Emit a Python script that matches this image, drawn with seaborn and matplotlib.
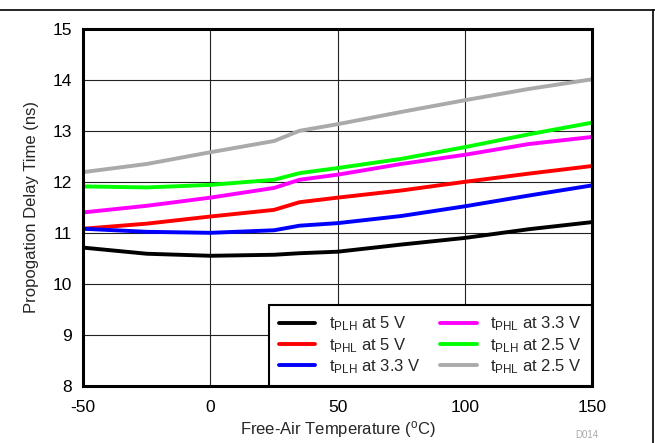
import pandas as pd
import seaborn as sns
import matplotlib.pyplot as plt
from matplotlib.lines import Line2D

# temperature points (degC)
temp = [-50, -25, 0, 25, 35, 50, 75, 100, 125, 150]

# delay values (ns)
tplh_5v = [10.71, 10.59, 10.55, 10.57, 10.60, 10.63, 10.77, 10.90, 11.07, 11.21]
tphl_5v = [11.08, 11.18, 11.32, 11.45, 11.60, 11.69, 11.83, 12.00, 12.16, 12.31]
tplh_33v = [11.08, 11.02, 11.00, 11.05, 11.14, 11.19, 11.33, 11.52, 11.73, 11.93]
tphl_33v = [11.40, 11.53, 11.69, 11.88, 12.04, 12.14, 12.35, 12.53, 12.74, 12.88]
tplh_25v = [11.91, 11.89, 11.94, 12.04, 12.17, 12.27, 12.45, 12.68, 12.93, 13.16]
tphl_25v = [12.19, 12.35, 12.58, 12.80, 13.00, 13.13, 13.37, 13.60, 13.82, 14.01]

labels = [
    r"t$_{\mathregular{PLH}}$ at 5 V",
    r"t$_{\mathregular{PHL}}$ at 5 V",
    r"t$_{\mathregular{PLH}}$ at 3.3 V",
    r"t$_{\mathregular{PHL}}$ at 3.3 V",
    r"t$_{\mathregular{PLH}}$ at 2.5 V",
    r"t$_{\mathregular{PHL}}$ at 2.5 V",
]
colors = ["#000000", "#ff0000", "#0000ff", "#ff00ff", "#00ff00", "#aaaaaa"]
series = [tplh_5v, tphl_5v, tplh_33v, tphl_33v, tplh_25v, tphl_25v]

# long format table for seaborn
rows = []
for lab, vals in zip(labels, series):
    for t, v in zip(temp, vals):
        rows.append({"temp": t, "delay": v, "series": lab})
df = pd.DataFrame(rows)

sns.set_style("white")
plt.rcParams['font.family'] = ['Liberation Sans', 'DejaVu Sans']
plt.rcParams['mathtext.fontset'] = 'custom'
plt.rcParams['mathtext.rm'] = 'Liberation Sans'
plt.rcParams['mathtext.default'] = 'regular'
plt.rcParams['axes.unicode_minus'] = False

fig = plt.figure(figsize=(6.55, 4.43), dpi=100)
ax = fig.add_axes([0.127, 0.129, 0.777, 0.806])

sns.lineplot(data=df, x="temp", y="delay", hue="series", hue_order=labels,
             palette=dict(zip(labels, colors)), linewidth=2.8, ax=ax, legend=False)

ax.set_xlim(-50, 150)
ax.set_ylim(8, 15)
ax.set_xticks([-50, 0, 50, 100, 150])
ax.set_yticks(range(8, 16))
ax.grid(True, color="#222222", linewidth=0.8)
ax.set_axisbelow(True)
ax.tick_params(axis="x", length=0, labelsize=12.5, pad=10, colors="black")
ax.tick_params(axis="y", length=0, labelsize=12.5, pad=8, colors="black")
for s in ax.spines.values():
    s.set_linewidth(2.2)
    s.set_color("black")

ax.set_xlabel(r"Free-Air Temperature ($^{\mathregular{o}}$C)", fontsize=12, labelpad=3)
ax.set_ylabel("Propogation Delay Time (ns)", fontsize=12, labelpad=10)

handles = [Line2D([0], [0], color=c, linewidth=2.8) for c in colors]
leg = ax.legend(handles, labels, ncol=2, loc="lower right", fontsize=12,
                borderaxespad=0, fancybox=False, framealpha=1,
                edgecolor="black", handlelength=2.2, columnspacing=1.2,
                labelspacing=0.15, borderpad=0.6)
leg.get_frame().set_linewidth(1.5)

# figure frame lines and doc id
fig.add_artist(Line2D([0, 1], [0.977, 0.977], color="black", linewidth=1.2))
fig.add_artist(Line2D([0.997, 0.997], [0, 0.977], color="black", linewidth=1.2))
fig.text(0.878, 0.012, "D014", color="#aaaaaa", fontsize=7)

fig.savefig("out.png", dpi=100)
